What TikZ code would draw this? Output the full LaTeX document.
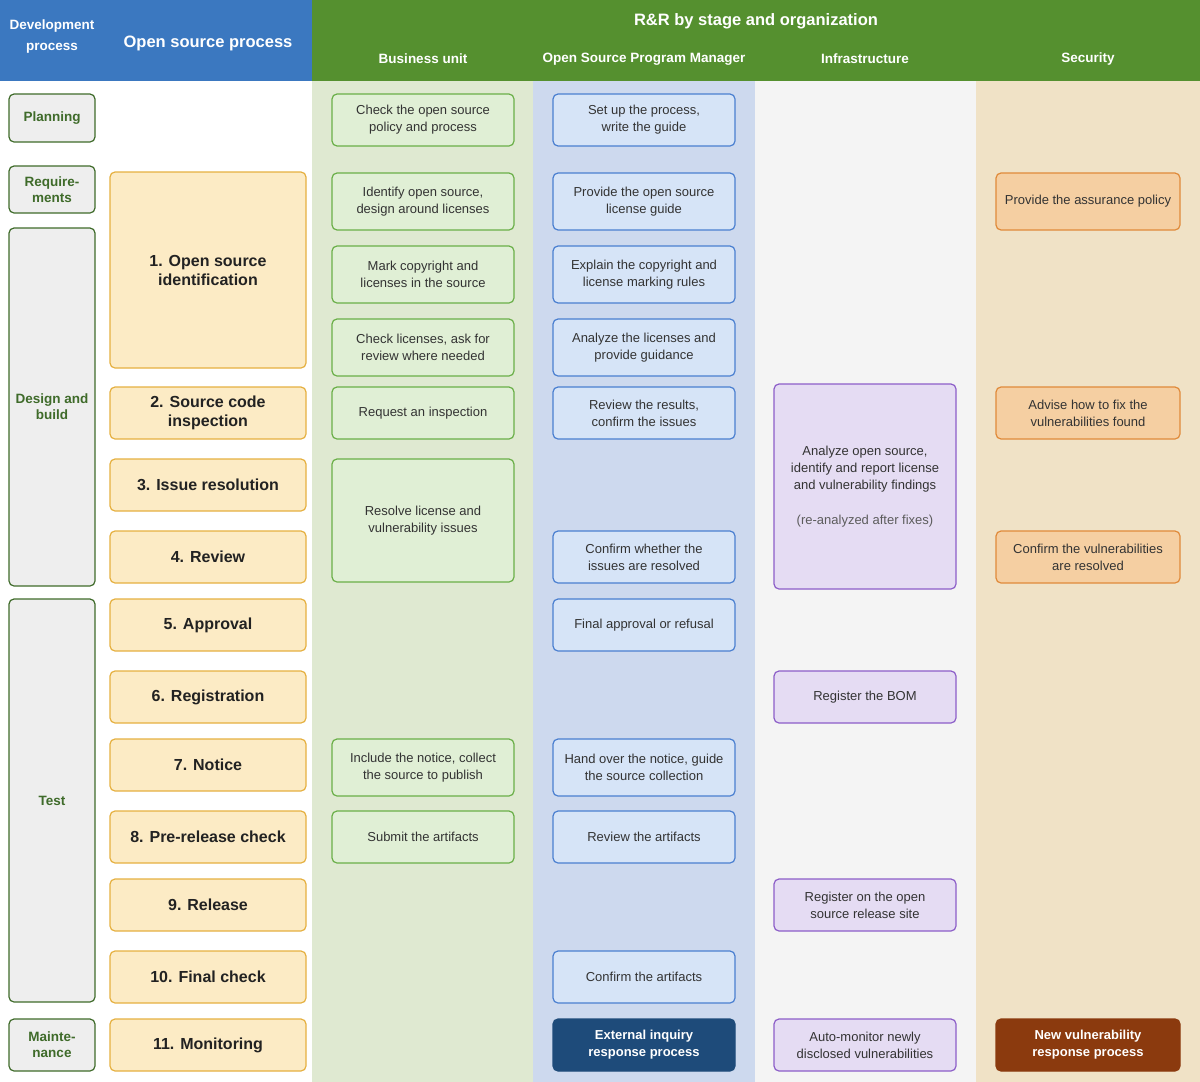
\documentclass[tikz,border=0pt]{standalone}
\usepackage{fontspec}
\setmainfont{Liberation Sans}
\begin{document}
\definecolor{hblue}{HTML}{3B78C0}\definecolor{hgreen}{HTML}{55902F}
\definecolor{cg}{HTML}{DFE9D1}\definecolor{cb}{HTML}{CDD9EE}\definecolor{cgr}{HTML}{F4F4F4}\definecolor{cy}{HTML}{F0E2C6}
\definecolor{txt}{HTML}{333333}
\tikzset{
 base/.style={draw,rounded corners=5pt,line width=1.2pt,align=center,text=txt,font=\fontsize{13}{17}\selectfont},
 dev/.style={base,fill={rgb,255:red,238;green,238;blue,238},draw={rgb,255:red,63;green,107;blue,42},text={rgb,255:red,63;green,107;blue,42},font=\bfseries\fontsize{13.5}{16}\selectfont},
 osp/.style={base,fill={rgb,255:red,252;green,235;blue,197},draw={rgb,255:red,229;green,176;blue,64},text={rgb,255:red,34;green,34;blue,34},font=\bfseries\fontsize{16}{19}\selectfont},
 bu/.style={base,fill={rgb,255:red,224;green,239;blue,213},draw={rgb,255:red,106;green,175;blue,72}},
 om/.style={base,fill={rgb,255:red,214;green,228;blue,247},draw={rgb,255:red,74;green,127;blue,208}},
 inf/.style={base,fill={rgb,255:red,229;green,220;blue,243},draw={rgb,255:red,140;green,94;blue,200}},
 sec/.style={base,fill={rgb,255:red,245;green,207;blue,162},draw={rgb,255:red,224;green,138;blue,58}},
 hd/.style={text=white,font=\bfseries\fontsize{13.5}{21}\selectfont,align=center}
}
\newcommand\bx[7]{\pgfmathsetmacro\bw{#5-#3}\pgfmathsetmacro\bh{#6-#4}\node[#1,minimum width=\bw pt,minimum height=\bh pt,inner sep=0pt] (#2) at ({(#3+#5)/2},{(#4+#6)/2}) {#7};}
\begin{tikzpicture}[x=1pt,y=-1pt]
\useasboundingbox (0,0) rectangle (1200,1082);
\fill[cg] (312,81) rectangle (533,1082);
\fill[cb] (533,81) rectangle (755,1082);
\fill[cgr] (755,81) rectangle (976,1082);
\fill[cy] (976,81) rectangle (1200,1082);
\fill[hblue] (0,0) rectangle (312,81);
\fill[hgreen] (312,0) rectangle (1200,81);
\node[hd] (h1) at (52,37) {Development\\process};
\node[hd,font=\bfseries\fontsize{16.5}{19}\selectfont] (h2) at (208,43) {Open source process};
\node[hd,font=\bfseries\fontsize{16.5}{19}\selectfont] (h3) at (756,21) {R\&R by stage and organization};
\node[hd] (h4) at (423,59) {Business unit};
\node[hd] (h5) at (644,59) {Open Source Program Manager};
\node[hd] (h6) at (865,59) {Infrastructure};
\node[hd] (h7) at (1088,59) {Security};
% dev
\bx{dev}{d1}{9}{94}{95}{142}{Planning}
\bx{dev}{d2}{9}{166}{95}{213}{Require-\\ments}
\bx{dev}{d3}{9}{228}{95}{586}{Design and\\build}
\bx{dev}{d4}{9}{599}{95}{1002}{Test}
\bx{dev}{d5}{9}{1019}{95}{1071}{Mainte-\\nance}
% os
\bx{osp}{o1}{110}{172}{306}{368}{1. Open source\\identification}
\bx{osp}{o2}{110}{387}{306}{439}{2. Source code\\inspection}
\bx{osp}{o3}{110}{459}{306}{511}{3. Issue resolution}
\bx{osp}{o4}{110}{531}{306}{583}{4. Review}
\bx{osp}{o5}{110}{599}{306}{651}{5. Approval}
\bx{osp}{o6}{110}{671}{306}{723}{6. Registration}
\bx{osp}{o7}{110}{739}{306}{791}{7. Notice}
\bx{osp}{o8}{110}{811}{306}{863}{8. Pre-release check}
\bx{osp}{o9}{110}{879}{306}{931}{9. Release}
\bx{osp}{o10}{110}{951}{306}{1003}{10. Final check}
\bx{osp}{o11}{110}{1019}{306}{1071}{11. Monitoring}
% BU
\bx{bu}{b1}{332}{94}{514}{146}{Check the open source\\policy and process}
\bx{bu}{b2}{332}{173}{514}{230}{Identify open source,\\design around licenses}
\bx{bu}{b3}{332}{246}{514}{303}{Mark copyright and\\licenses in the source}
\bx{bu}{b4}{332}{319}{514}{376}{Check licenses, ask for\\review where needed}
\bx{bu}{b5}{332}{387}{514}{439}{Request an inspection}
\bx{bu}{b6}{332}{459}{514}{582}{Resolve license and\\vulnerability issues}
\bx{bu}{b7}{332}{739}{514}{796}{Include the notice, collect\\the source to publish}
\bx{bu}{b8}{332}{811}{514}{863}{Submit the artifacts}
% OSPM
\bx{om}{m1}{553}{94}{735}{146}{Set up the process,\\write the guide}
\bx{om}{m2}{553}{173}{735}{230}{Provide the open source\\license guide}
\bx{om}{m3}{553}{246}{735}{303}{Explain the copyright and\\license marking rules}
\bx{om}{m4}{553}{319}{735}{376}{Analyze the licenses and\\provide guidance}
\bx{om}{m5}{553}{387}{735}{439}{Review the results,\\confirm the issues}
\bx{om}{m6}{553}{531}{735}{583}{Confirm whether the\\issues are resolved}
\bx{om}{m7}{553}{599}{735}{651}{Final approval or refusal}
\bx{om}{m8}{553}{739}{735}{796}{Hand over the notice, guide\\the source collection}
\bx{om}{m9}{553}{811}{735}{863}{Review the artifacts}
\bx{om}{m10}{553}{951}{735}{1003}{Confirm the artifacts}
\bx{om,fill={rgb,255:red,30;green,75;blue,122},draw={rgb,255:red,30;green,75;blue,122},text=white,font=\bfseries\fontsize{13}{17}\selectfont}{m11}{553}{1019}{735}{1071}{External inquiry\\response process}
% infra
\bx{inf}{i1}{774}{384}{956}{589}{Analyze open source,\\identify and report license\\and vulnerability findings\\[18pt]{\color{txt!80}(re-analyzed after fixes)}}
\bx{inf}{i2}{774}{671}{956}{723}{Register the BOM}
\bx{inf}{i3}{774}{879}{956}{931}{Register on the open\\source release site}
\bx{inf}{i4}{774}{1019}{956}{1071}{Auto-monitor newly\\disclosed vulnerabilities}
% security
\bx{sec}{s1}{996}{173}{1180}{230}{Provide the assurance policy}
\bx{sec}{s2}{996}{387}{1180}{439}{Advise how to fix the\\vulnerabilities found}
\bx{sec}{s3}{996}{531}{1180}{583}{Confirm the vulnerabilities\\are resolved}
\bx{sec,fill={rgb,255:red,139;green,58;blue,14},draw={rgb,255:red,139;green,58;blue,14},text=white,font=\bfseries\fontsize{13}{17}\selectfont}{s4}{996}{1019}{1180}{1071}{New vulnerability\\response process}
\end{tikzpicture}
\end{document}
